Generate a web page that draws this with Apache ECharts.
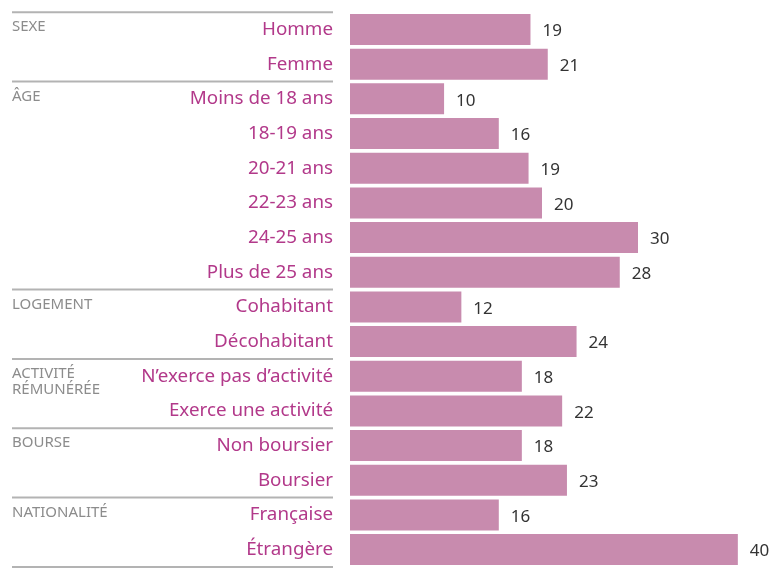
<!DOCTYPE html>
<html><head><meta charset="utf-8">
<script src="https://cdn.jsdelivr.net/npm/echarts@6/dist/echarts.min.js"></script>
<style>html,body{margin:0;padding:0;background:#fff}#c{width:771px;height:574px}</style>
</head><body><div id="c"></div>
<script>
const categories = ['Homme','Femme','Moins de 18 ans','18-19 ans','20-21 ans','22-23 ans','24-25 ans','Plus de 25 ans','Cohabitant','Décohabitant','N\u2019exerce pas d\u2019activité','Exerce une activité','Non boursier','Boursier','Française','Étrangère'];
const values = [18.8, 20.6, 9.8, 15.5, 18.6, 20.0, 30.0, 28.1, 11.6, 23.6, 17.9, 22.1, 17.9, 22.6, 15.5, 40.4];
const groupNames = ['SEXE','ÂGE','LOGEMENT','ACTIVITÉ\nRÉMUNÉRÉE','BOURSE','NATIONALITÉ'];
const groupStarts = [0, 2, 8, 10, 12, 14];
const groupEnds = [1, 7, 9, 11, 13, 15];

const FONT = '"Noto Sans", Lato, sans-serif';
const chart = echarts.init(document.getElementById('c'), null, {renderer: 'canvas'});
const groupData = groupNames.map((n, i) => ({name: n, value: [0, groupStarts[i], groupEnds[i]]}));

chart.setOption({
  animation: false,
  grid: {left: 350, top: 12.2, width: 403.2, height: 554.7, containLabel: false},
  xAxis: {type: 'value', min: 0, max: 42, show: false},
  yAxis: {
    type: 'category', data: categories, inverse: true,
    axisLine: {show: false}, axisTick: {show: false}, splitLine: {show: false},
    axisLabel: {color: '#b2398a', fontSize: 18.8, fontFamily: FONT, margin: 17}
  },
  series: [{
    type: 'bar', data: values, barWidth: 31,
    itemStyle: {color: '#c88bae'},
    label: {show: true, position: 'right', distance: 12, offset: [0, 2], color: '#333', fontSize: 17, fontFamily: FONT,
      formatter: p => Math.round(p.value)}
  }, {
    type: 'custom', clip: false, silent: true,
    encode: {x: 0, y: 1},
    data: groupData,
    renderItem: (params, api) => {
      const s = api.value(1), e = api.value(2);
      const c0 = api.coord([0, s]);
      const band = api.size([0, 1])[1];
      const top = c0[1] - band / 2;
      const x2 = c0[0] - 17, x1 = 12;
      const children = [
        {type: 'line', shape: {x1: x1, y1: top, x2: x2, y2: top}, style: {stroke: '#b3b3b3', lineWidth: 2}},
        {type: 'text', style: {text: groupNames[params.dataIndex], x: x1, y: top + 7, fill: '#8c8c8c',
          font: '15px ' + FONT, lineHeight: 16, verticalAlign: 'top', align: 'left'}}
      ];
      if (params.dataIndex === groupNames.length - 1) {
        const bottom = api.coord([0, e])[1] + band / 2;
        children.push({type: 'line', shape: {x1: x1, y1: bottom, x2: x2, y2: bottom}, style: {stroke: '#b3b3b3', lineWidth: 2}});
      }
      return {type: 'group', children: children};
    }
  }]
});
</script></body></html>
